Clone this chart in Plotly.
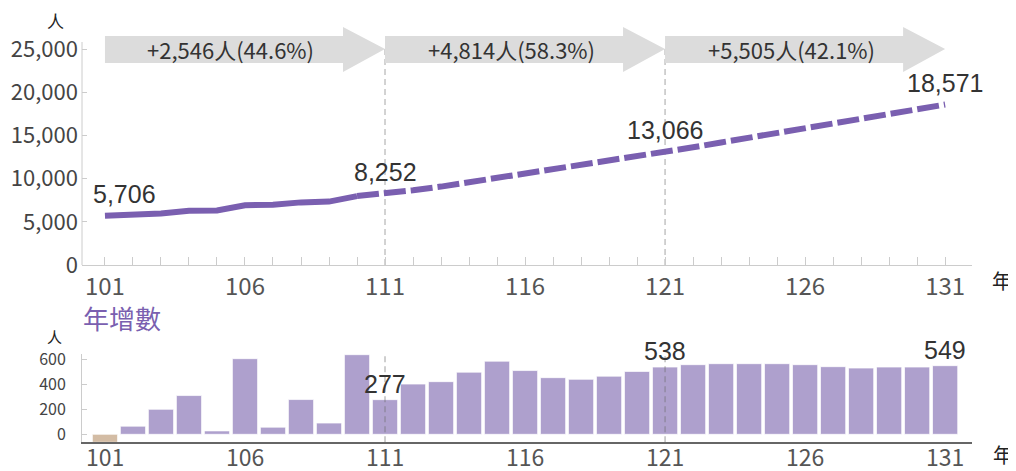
import plotly.graph_objects as go

# ---------------- data ----------------
years = list(range(101, 132))
population = [5706, 5771, 5971, 6281, 6308, 6913, 6970, 7248, 7338, 7975,
              8252, 8654, 9075, 9572, 10157, 10667, 11120, 11560, 12025, 12528,
              13066, 13623, 14188, 14753, 15318, 15875, 16416, 16946, 17484, 18022, 18571]
increase = [-64, 65, 200, 310, 27, 605, 57, 278, 90, 637,
            277, 402, 421, 497, 585, 510, 453, 440, 465, 503,
            538, 557, 565, 565, 565, 557, 541, 530, 538, 538, 549]
actual_end = 110
period_starts = [101, 111, 121]
period_labels = ["+2,546人(44.6%)", "+4,814人(58.3%)", "+5,505人(42.1%)"]
boundary_years = [111, 121]
pop_label_years = [101, 111, 121, 131]
inc_label_years = [111, 121, 131]
x_label_years = [101, 106, 111, 116, 121, 126, 131]
y_ticks_top = [0, 5000, 10000, 15000, 20000, 25000]
y_ticks_bot = [0, 200, 400, 600]

# ---------------- styles ----------------
PURPLE = "#7a5fb0"
BAR = "#aea0cd"
TAN = "#d3bca4"
ARROW = "#dcdcdc"
CJK = "Noto Sans CJK TC"
LAT = "Liberation Sans"

W, H = 1016, 471
OFF = 8                      # page body margin
ML = 82 - OFF
PW = 890
MR = W - ML - PW

def px_x(p):
    return (p - OFF - ML) / PW

def px_y(p):
    return 1 - (p - OFF) / H

fig = go.Figure()

iend = years.index(actual_end) + 1
fig.add_trace(go.Scatter(x=years[:iend], y=population[:iend], mode="lines",
                         line=dict(color=PURPLE, width=6), xaxis="x", yaxis="y",
                         hoverinfo="skip"))
fig.add_trace(go.Scatter(x=years[iend - 1:], y=population[iend - 1:], mode="lines",
                         line=dict(color=PURPLE, width=6, dash="22px,5px"),
                         xaxis="x", yaxis="y", hoverinfo="skip"))

bar_colors = [TAN if v < 0 else BAR for v in increase]
fig.add_trace(go.Bar(x=years, y=increase, marker=dict(color=bar_colors,
                     line=dict(color="rgba(255,255,255,0.7)", width=1)),
                     xaxis="x2", yaxis="y2", hoverinfo="skip"))

xr = [100.18, 131.96]
shapes = []
# top y axis line
shapes.append(dict(type="line", xref="x domain", yref="y", x0=0, x1=0, y0=0, y1=25810,
                   line=dict(color="#cccccc", width=1)))
for b in boundary_years:
    shapes.append(dict(type="line", xref="x", yref="y", x0=b, x1=b, y0=0, y1=25000,
                       line=dict(color="#b5b5b5", width=1.2, dash="6px,4px"), layer="below"))
    shapes.append(dict(type="line", xref="x2", yref="y2 domain", x0=b, x1=b, y0=0, y1=1,
                       line=dict(color="rgba(110,110,110,0.55)", width=1.2, dash="6px,4px"),
                       layer="above"))
# arrows
for s in period_starts:
    path = (f"M {s},23380 L {s+8.5},23380 L {s+8.5},22338 L {s+10},25000 "
            f"L {s+8.5},27546 L {s+8.5},26505 L {s},26505 Z")
    shapes.append(dict(type="path", xref="x", yref="y", path=path,
                       fillcolor=ARROW, line=dict(width=0), layer="above"))

ann = []
for s, t in zip(period_starts, period_labels):
    ann.append(dict(x=s + 4.5, y=24942, xref="x", yref="y", text=t, showarrow=False,
                    xanchor="center", yanchor="middle",
                    font=dict(family=CJK, size=22, color="#333333")))
for yv in pop_label_years:
    i = years.index(yv)
    ann.append(dict(x=yv, y=population[i], xref="x", yref="y",
                    text=f"{population[i]:,}", showarrow=False, yanchor="bottom",
                    xanchor="center", yshift=6, xshift=20 if yv == years[0] else 0,
                    font=dict(family=LAT, size=25, color="#333333")))
for yv in inc_label_years:
    i = years.index(yv)
    ann.append(dict(x=yv, y=increase[i], xref="x2", yref="y2",
                    text=f"{increase[i]:,}", showarrow=False, yanchor="bottom",
                    xanchor="center", yshift=0,
                    font=dict(family=LAT, size=25, color="#333333")))
# bottom x-axis year labels (placed on the x2 scale)
for yv in x_label_years:
    ann.append(dict(x=yv, y=px_y(456), xref="x2", yref="paper", text=str(yv),
                    showarrow=False, xanchor="center", yanchor="middle", borderpad=0,
                    font=dict(family=CJK, size=23, color="#555555")))

def paper_text(t, x, y, size, color="#222222", xanchor="center"):
    ann.append(dict(x=px_x(x), y=px_y(y), xref="paper", yref="paper", text=t,
                    xanchor=xanchor, yanchor="middle", showarrow=False, borderpad=0,
                    font=dict(family=CJK, size=size, color=color)))

paper_text("人", 55, 21, 17)
paper_text("人", 54, 336, 15)
paper_text("年", 1002, 280, 20)
paper_text("年", 1003, 454, 20)
paper_text("年增數", 82, 317, 26, PURPLE, "left")

fig.update_layout(
    width=W, height=H, margin=dict(l=ML, r=MR, t=0, b=0, autoexpand=False),
    paper_bgcolor="white", plot_bgcolor="white", showlegend=False,
    bargap=0.1,
    xaxis=dict(domain=[0, 1], anchor="y", range=xr, tickmode="array",
               tickvals=years, automargin=False,
               ticktext=[str(y) if y in x_label_years else "" for y in years],
               ticks="inside", ticklen=8, tickcolor="#cccccc",
               showline=True, linecolor="#cccccc", linewidth=1,
               showgrid=False, zeroline=False,
               tickfont=dict(family=CJK, size=24, color="#555555")),
    yaxis=dict(domain=[px_y(265), px_y(23.08)], anchor="x", range=[0, 28000],
               tickmode="array", tickvals=y_ticks_top, automargin=False,
               ticktext=[f"{v:,}" for v in y_ticks_top],
               ticks="inside", ticklen=5, tickcolor="#cccccc",
               showline=False, showgrid=False, zeroline=False,
               ticklabelstandoff=3,
               tickfont=dict(family=CJK, size=22, color="#444444")),
    xaxis2=dict(domain=[0, 1], anchor="y2", range=xr, showticklabels=False,
                ticks="", showline=True, linecolor="#666666", linewidth=1.5,
                showgrid=False, zeroline=False, automargin=False),
    yaxis2=dict(domain=[px_y(442.3), px_y(354.3)], anchor="x2", range=[-64, 640],
                tickmode="array", tickvals=y_ticks_bot, automargin=False,
                ticktext=[str(v) for v in y_ticks_bot],
                ticks="inside", ticklen=5, tickcolor="#cccccc",
                showline=True, linecolor="#cccccc", linewidth=1,
                showgrid=False, zeroline=False, ticklabelstandoff=12,
                tickfont=dict(family=CJK, size=16, color="#444444")),
    shapes=shapes, annotations=ann,
)

fig.write_html("out.html")
